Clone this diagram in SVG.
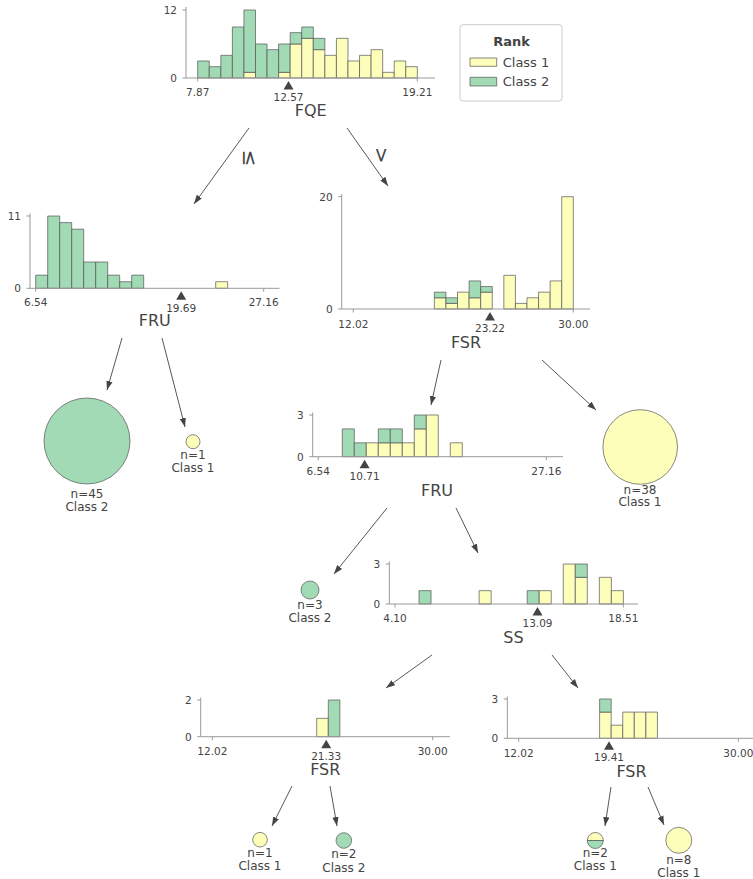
<svg xmlns="http://www.w3.org/2000/svg" width="753" height="879" viewBox="0 0 753 879">
<style>
text{font-family:"DejaVu Sans",sans-serif;fill:#444443}
.t{font-size:10.5px}
.ty{font-size:10.5px;text-anchor:end}
.tc{font-size:10.5px;text-anchor:middle}
.ax{font-size:16px;text-anchor:middle}
.lf{font-size:12px;text-anchor:middle}
.el{font-size:20px;text-anchor:middle}
.y{fill:#fefebb;stroke:#555;stroke-width:0.7;vector-effect:non-scaling-stroke}
.g{fill:#a1dab4;stroke:#555;stroke-width:0.7;vector-effect:non-scaling-stroke}
.axis{stroke:#999;stroke-width:1;fill:none}
.tri{fill:#444443}
.edge{stroke:#444443;stroke-width:0.9;fill:none;marker-end:url(#ah)}
</style>
<defs>
<marker id="ah" viewBox="0 0 10 10" refX="10" refY="5" markerWidth="9" markerHeight="9" markerUnits="userSpaceOnUse" orient="auto">
<path d="M0,1.5 L10,5 L0,8.5 z" fill="#444443"/>
</marker>
</defs>
<rect width="753" height="879" fill="#ffffff"/>

<g id="connectors">
<path class="edge" d="M249,128 L194,204"/>
<path class="edge" d="M347,128 L388,186"/>
<path class="edge" d="M122,338 L107,390"/>
<path class="edge" d="M162,338 L185,427"/>
<path class="edge" d="M441,360 L431,405"/>
<path class="edge" d="M542,360 L596,410"/>
<path class="edge" d="M387,508 L334,574"/>
<path class="edge" d="M456,508 L478,553"/>
<path class="edge" d="M432,655 L386,688"/>
<path class="edge" d="M552,655 L578,688"/>
<path class="edge" d="M292,786 L272,826"/>
<path class="edge" d="M330,786 L337,826"/>
<path class="edge" d="M611,787 L605,826"/>
<path class="edge" d="M648,787 L664,825"/>
<text class="el" transform="translate(250,158) rotate(90)" dy="0.35em">≤</text>
<text class="el" transform="translate(382,155) rotate(90)" dy="0.35em">&gt;</text>
</g>

<g id="legend">
<rect x="460" y="24.7" width="102" height="76.3" rx="3" fill="#fff" stroke="#ccc" stroke-width="1"/>
<text x="511.5" y="46.3" style="font-size:13px;font-weight:bold" text-anchor="middle">Rank</text>
<rect x="470" y="58" width="26.7" height="8.3" class="y"/>
<text x="502.7" y="66.5" style="font-size:13px">Class 1</text>
<rect x="470" y="77.3" width="26.7" height="8.7" class="g"/>
<text x="502.7" y="86" style="font-size:13px">Class 2</text>
</g>

<!-- Root FQE -->
<g id="node_root">
<g transform="translate(197.7 78) scale(11.56 -5.667)">
<rect class="g" x="0" y="0" width="1" height="3"/>
<rect class="g" x="1" y="0" width="1" height="2"/>
<rect class="g" x="2" y="0" width="1" height="4"/>
<rect class="g" x="3" y="0" width="1" height="9"/>
<rect class="y" x="4" y="0" width="1" height="1"/><rect class="g" x="4" y="1" width="1" height="11"/>
<rect class="g" x="5" y="0" width="1" height="6"/>
<rect class="g" x="6" y="0" width="1" height="5"/>
<rect class="y" x="7" y="0" width="1" height="1"/><rect class="g" x="7" y="1" width="1" height="5"/>
<rect class="y" x="8" y="0" width="1" height="6"/><rect class="g" x="8" y="6" width="1" height="2"/>
<rect class="y" x="9" y="0" width="1" height="7"/><rect class="g" x="9" y="7" width="1" height="2"/>
<rect class="y" x="10" y="0" width="1" height="5"/><rect class="g" x="10" y="5" width="1" height="2"/>
<rect class="y" x="11" y="0" width="1" height="4"/>
<rect class="y" x="12" y="0" width="1" height="7"/>
<rect class="y" x="13" y="0" width="1" height="3"/>
<rect class="y" x="14" y="0" width="1" height="4"/>
<rect class="y" x="15" y="0" width="1" height="5"/>
<rect class="y" x="16" y="0" width="1" height="1"/>
<rect class="y" x="17" y="0" width="1" height="3"/>
<rect class="y" x="18" y="0" width="1" height="2"/>
</g>
<path class="axis" d="M186,7 V78 H435 M182.5,10 H186 M182.5,78 H186 M197.7,78 V81.5 M417.3,78 V81.5"/>
<text class="ty" x="177" y="13.8">12</text>
<text class="ty" x="177" y="81.8">0</text>
<text class="tc" x="197.7" y="96.3">7.87</text>
<text class="tc" x="417.3" y="96.3">19.21</text>
<polygon class="tri" points="288.5,81 283.5,89.5 293.5,89.5"/>
<text class="tc" x="288.5" y="100.5">12.57</text>
<text class="ax" x="310.7" y="116">FQE</text>
</g>

<!-- Left FRU -->
<g id="node_fru_left">
<g transform="translate(35.7 288.3) scale(12 -6.57)">
<rect class="g" x="0" y="0" width="1" height="2"/>
<rect class="g" x="1" y="0" width="1" height="11"/>
<rect class="g" x="2" y="0" width="1" height="10"/>
<rect class="g" x="3" y="0" width="1" height="9"/>
<rect class="g" x="4" y="0" width="1" height="4"/>
<rect class="g" x="5" y="0" width="1" height="4"/>
<rect class="g" x="6" y="0" width="1" height="2"/>
<rect class="g" x="7" y="0" width="1" height="1"/>
<rect class="g" x="8" y="0" width="1" height="2"/>
<rect class="y" x="15" y="0" width="1" height="1"/>
</g>
<path class="axis" d="M30,213.5 V288.3 H279.5 M26.5,216 H30 M26.5,288.3 H30 M35.7,288.3 V291.8 M263.7,288.3 V291.8"/>
<text class="ty" x="21" y="219.8">11</text>
<text class="ty" x="21" y="292.1">0</text>
<text class="tc" x="35.7" y="306.3">6.54</text>
<text class="tc" x="263.7" y="306.3">27.16</text>
<polygon class="tri" points="181.2,291.3 176.2,299.8 186.2,299.8"/>
<text class="tc" x="181.2" y="311.5">19.69</text>
<text class="ax" x="154.7" y="326">FRU</text>
</g>

<!-- Top FSR -->
<g id="node_fsr_top">
<g transform="translate(353.3 309) scale(11.58 -5.615)">
<rect class="y" x="7" y="0" width="1" height="2"/><rect class="g" x="7" y="2" width="1" height="1"/>
<rect class="y" x="8" y="0" width="1" height="1"/><rect class="g" x="8" y="1" width="1" height="1"/>
<rect class="y" x="9" y="0" width="1" height="3"/>
<rect class="y" x="10" y="0" width="1" height="2"/><rect class="g" x="10" y="2" width="1" height="3"/>
<rect class="y" x="11" y="0" width="1" height="3"/><rect class="g" x="11" y="3" width="1" height="1"/>
<rect class="y" x="13" y="0" width="1" height="6"/>
<rect class="y" x="14" y="0" width="1" height="1"/>
<rect class="y" x="15" y="0" width="1" height="2"/>
<rect class="y" x="16" y="0" width="1" height="3"/>
<rect class="y" x="17" y="0" width="1" height="5"/>
<rect class="y" x="18" y="0" width="1" height="20"/>
</g>
<path class="axis" d="M341.7,194 V309 H590 M338.2,196.7 H341.7 M338.2,309 H341.7 M353.3,309 V312.5 M573.3,309 V312.5"/>
<text class="ty" x="332.7" y="200.5">20</text>
<text class="ty" x="332.7" y="312.8">0</text>
<text class="tc" x="353.3" y="327.5">12.02</text>
<text class="tc" x="573.3" y="327.5">30.00</text>
<polygon class="tri" points="490,312 485,320.5 495,320.5"/>
<text class="tc" x="490" y="331.7">23.22</text>
<text class="ax" x="466" y="347.5">FSR</text>
</g>

<!-- FRU 2 -->
<g id="node_fru2">
<g transform="translate(318.3 456.7) scale(12 -13.9)">
<rect class="g" x="2" y="0" width="1" height="2"/>
<rect class="g" x="3" y="0" width="1" height="1"/>
<rect class="y" x="4" y="0" width="1" height="1"/>
<rect class="y" x="5" y="0" width="1" height="1"/><rect class="g" x="5" y="1" width="1" height="1"/>
<rect class="y" x="6" y="0" width="1" height="1"/><rect class="g" x="6" y="1" width="1" height="1"/>
<rect class="y" x="7" y="0" width="1" height="1"/>
<rect class="y" x="8" y="0" width="1" height="2"/><rect class="g" x="8" y="2" width="1" height="1"/>
<rect class="y" x="9" y="0" width="1" height="3"/>
<rect class="y" x="11" y="0" width="1" height="1"/>
</g>
<path class="axis" d="M312.7,412.5 V456.7 H563 M309.2,415 H312.7 M309.2,456.7 H312.7 M318.3,456.7 V460.2 M546.3,456.7 V460.2"/>
<text class="ty" x="303.7" y="418.8">3</text>
<text class="ty" x="303.7" y="460.5">0</text>
<text class="tc" x="318.3" y="474.7">6.54</text>
<text class="tc" x="546.3" y="474.7">27.16</text>
<polygon class="tri" points="364.6,459.7 359.6,468.2 369.6,468.2"/>
<text class="tc" x="364.6" y="479.7">10.71</text>
<text class="ax" x="437" y="495.5">FRU</text>
</g>

<!-- SS -->
<g id="node_ss">
<g transform="translate(395 604) scale(12.02 -13.33)">
<rect class="g" x="2" y="0" width="1" height="1"/>
<rect class="y" x="7" y="0" width="1" height="1"/>
<rect class="g" x="11" y="0" width="1" height="1"/>
<rect class="y" x="12" y="0" width="1" height="1"/>
<rect class="y" x="14" y="0" width="1" height="3"/>
<rect class="y" x="15" y="0" width="1" height="2"/><rect class="g" x="15" y="2" width="1" height="1"/>
<rect class="y" x="17" y="0" width="1" height="2"/>
<rect class="y" x="18" y="0" width="1" height="1"/>
</g>
<path class="axis" d="M389.3,561.5 V604 H638 M385.8,564 H389.3 M385.8,604 H389.3 M395,604 V607.5 M623.3,604 V607.5"/>
<text class="ty" x="380.3" y="567.8">3</text>
<text class="ty" x="380.3" y="607.8">0</text>
<text class="tc" x="395" y="622">4.10</text>
<text class="tc" x="623.3" y="622">18.51</text>
<polygon class="tri" points="537.5,607 532.5,615.5 542.5,615.5"/>
<text class="tc" x="537.5" y="627">13.09</text>
<text class="ax" x="513.5" y="642.5">SS</text>
</g>

<!-- Bottom-left FSR -->
<g id="node_fsr_bl">
<g transform="translate(212.3 736.7) scale(11.6 -18.35)">
<rect class="y" x="9" y="0" width="1" height="1"/>
<rect class="g" x="10" y="0" width="1" height="2"/>
</g>
<path class="axis" d="M200.7,697.5 V736.7 H450 M197.2,700 H200.7 M197.2,736.7 H200.7 M212.3,736.7 V740.2 M432.7,736.7 V740.2"/>
<text class="ty" x="191.7" y="703.8">2</text>
<text class="ty" x="191.7" y="740.5">0</text>
<text class="tc" x="212.3" y="755">12.02</text>
<text class="tc" x="432.7" y="755">30.00</text>
<polygon class="tri" points="326.2,739.7 321.2,748.2 331.2,748.2"/>
<text class="tc" x="326.2" y="759.5">21.33</text>
<text class="ax" x="325.3" y="775">FSR</text>
</g>

<!-- Bottom-right FSR -->
<g id="node_fsr_br">
<g transform="translate(518.7 738.3) scale(11.56 -13.1)">
<rect class="y" x="7" y="0" width="1" height="2"/><rect class="g" x="7" y="2" width="1" height="1"/>
<rect class="y" x="8" y="0" width="1" height="1"/>
<rect class="y" x="9" y="0" width="1" height="2"/>
<rect class="y" x="10" y="0" width="1" height="2"/>
<rect class="y" x="11" y="0" width="1" height="2"/>
</g>
<path class="axis" d="M507.3,696.5 V738.3 H753 M503.8,699 H507.3 M503.8,738.3 H507.3 M518.7,738.3 V741.8 M738.3,738.3 V741.8"/>
<text class="ty" x="498.3" y="702.8">3</text>
<text class="ty" x="498.3" y="742.1">0</text>
<text class="tc" x="518.7" y="756.5">12.02</text>
<text class="tc" x="738.3" y="756.5">30.00</text>
<polygon class="tri" points="609,741.3 604,749.8 614,749.8"/>
<text class="tc" x="609" y="761">19.41</text>
<text class="ax" x="631.5" y="776.5">FSR</text>
</g>

<!-- Leaves -->
<g id="leaf_n45">
<circle cx="87" cy="441" r="43" class="g"/>
<text class="lf" x="87" y="498.3">n=45</text>
<text class="lf" x="87" y="511">Class 2</text>
</g>
<g id="leaf_n1_a">
<circle cx="193" cy="441.7" r="7" class="y"/>
<text class="lf" x="193" y="459.3">n=1</text>
<text class="lf" x="193" y="472">Class 1</text>
</g>
<g id="leaf_n38">
<circle cx="640.2" cy="447" r="37.3" class="y"/>
<text class="lf" x="640" y="493.5">n=38</text>
<text class="lf" x="640" y="506">Class 1</text>
</g>
<g id="leaf_n3">
<circle cx="310" cy="590" r="9" class="g"/>
<text class="lf" x="310" y="609">n=3</text>
<text class="lf" x="310" y="622">Class 2</text>
</g>
<g id="leaf_n1_b">
<circle cx="260" cy="839.7" r="7.3" class="y"/>
<text class="lf" x="260" y="857.3">n=1</text>
<text class="lf" x="260" y="870">Class 1</text>
</g>
<g id="leaf_n2_a">
<circle cx="343.8" cy="840.5" r="7.8" class="g"/>
<text class="lf" x="343.8" y="858.3">n=2</text>
<text class="lf" x="343.8" y="871.5">Class 2</text>
</g>
<g id="leaf_n2_b">
<path d="M587.3,840.5 A8,8 0 0 1 603.3,840.5 Z" class="y"/>
<path d="M587.3,840.5 A8,8 0 0 0 603.3,840.5 Z" class="g"/>
<text class="lf" x="595.3" y="857.3">n=2</text>
<text class="lf" x="595.3" y="870">Class 1</text>
</g>
<g id="leaf_n8">
<circle cx="678.8" cy="840.3" r="13" class="y"/>
<text class="lf" x="678.8" y="864">n=8</text>
<text class="lf" x="678.8" y="876.7">Class 1</text>
</g>
</svg>
